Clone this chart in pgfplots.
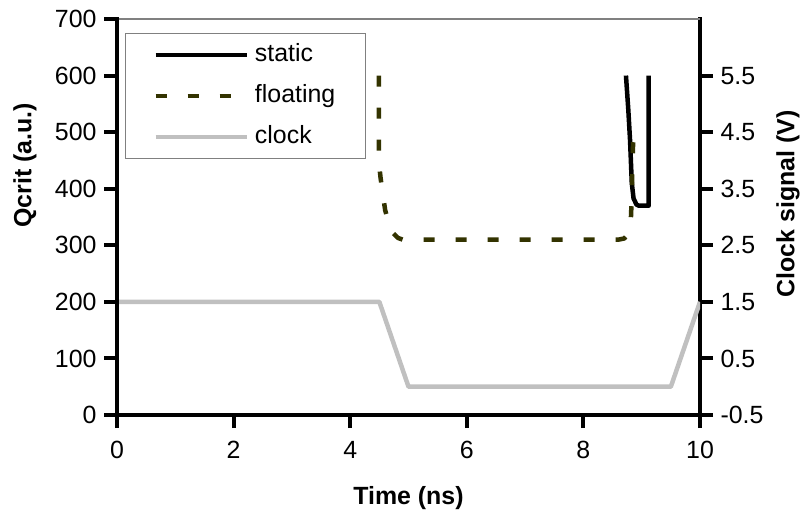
\documentclass[border=0pt]{standalone}
\usepackage{fontspec}
\setmainfont{Liberation Sans}
\usepackage{pgfplots}
\pgfplotsset{compat=1.18}
\definecolor{floatc}{RGB}{51,51,0}
\definecolor{clockc}{RGB}{192,192,192}
\begin{document}
\begin{tikzpicture}[font=\fontsize{25}{30}\selectfont]
\useasboundingbox (-117bp,-98bp) rectangle (687bp,415bp);
% right axis: clock signal
\begin{axis}[
  scale only axis, width=583bp, height=396bp,
  xmin=0, xmax=10, ymin=-0.5, ymax=6.5,
  axis x line=none, axis y line=right,
  axis line style={-, line width=4bp, line cap=rect},
  ytick={-0.5,0.5,1.5,2.5,3.5,4.5,5.5},
  yticklabels={-0.5,0.5,1.5,2.5,3.5,4.5,5.5},
  yticklabel style={xshift=4bp},
  tick align=outside, major tick length=13bp,
  every tick/.style={black, line width=4bp},
  ylabel={\bfseries Clock signal (V)},
  ylabel style={at={(axis description cs:1.151,0.533)}, anchor=center},
]
\addplot[clockc, line width=4.5bp, line join=round] coordinates {(0,1.5) (4.5,1.5) (5,0) (9.5,0) (10,1.5)};
\end{axis}
\draw[gray, line width=1.2bp] (0bp,396bp) -- (583bp,396bp);
% left axis: Qcrit
\begin{axis}[
  scale only axis, width=583bp, height=396bp,
  xmin=0, xmax=10, ymin=0, ymax=700,
  axis x line=bottom, axis y line=left,
  axis line style={-, line width=4bp, line cap=rect},
  xtick={0,2,4,6,8,10}, ytick={0,100,200,300,400,500,600,700},
  xticklabel style={yshift=-10bp},
  yticklabel style={xshift=-4bp},
  tick align=outside, major tick length=13bp,
  every tick/.style={black, line width=4bp},
  /pgf/number format/assume math mode=true,
  xlabel={\bfseries Time (ns)}, ylabel={\bfseries Qcrit (a.u.)},
  xlabel style={at={(axis description cs:0.5,-0.21)}, anchor=center},
  ylabel style={at={(axis description cs:-0.158,0.631)}, anchor=center},
  legend cell align=left,
  legend image code/.code={\draw[#1] (0bp,0bp) -- (91bp,0bp);},
  legend style={at={(0,1)}, anchor=north west, xshift=8bp, yshift=-14bp,
    draw=gray, line width=1bp, inner xsep=28bp, inner ysep=7.5bp,
    row sep=13bp, column sep=4bp, cells={anchor=west},
    nodes={inner sep=2bp, text height=18bp, text depth=6bp}},
]
\addplot[black, line width=4.5bp, line join=round] coordinates {
  (8.73,600) (8.77,540) (8.80,486) (8.83,410) (8.86,383) (8.91,372) (8.95,370) (9.12,370) (9.12,600)};
\addlegendentry{static}
\addplot[floatc, line width=4.5bp, line join=round, dash pattern=on 11bp off 21bp] coordinates {
  (4.49,600) (4.49,450) (4.52,420) (4.56,390) (4.60,362) (4.66,340) (4.74,321) (4.82,313) (4.90,310)
  (8.60,310) (8.70,312) (8.77,320) (8.81,335) (8.83,386) (8.84,439) (8.86,505)};
\addlegendentry{floating}
\addlegendimage{clockc, line width=4.5bp}
\addlegendentry{clock}
\end{axis}
\end{tikzpicture}
\end{document}
